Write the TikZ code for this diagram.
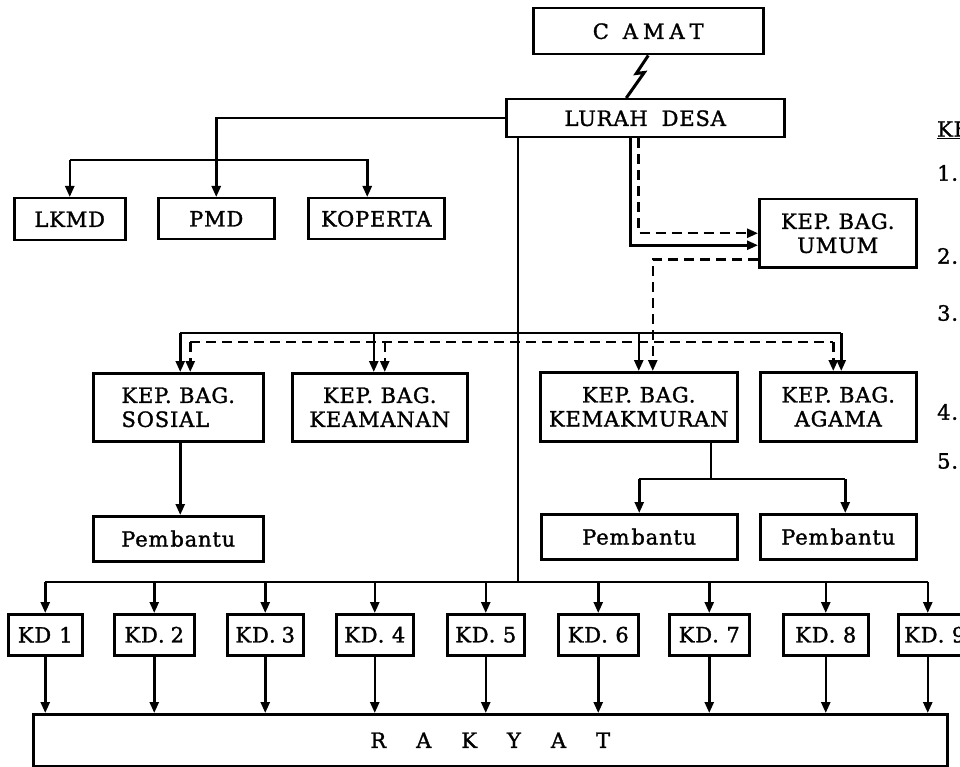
\documentclass[tikz,border=0pt]{standalone}
\usepackage{fontspec}
\setmainfont{DejaVu Serif}[FakeBold=1.4,LetterSpace=4]
\usetikzlibrary{arrows.meta,calc}
\begin{document}
\begin{tikzpicture}[x=1pt,y=-1pt,
  box/.style={draw,line width=2.5pt,inner sep=0pt,anchor=north west,align=center,font=\fontsize{21}{24}\selectfont},
  lbl/.style={inner sep=0pt,anchor=west,font=\fontsize{21}{24}\selectfont},
  ln/.style={line width=2.5pt},
  arr/.style={line width=2.5pt,-{Triangle[length=11pt,width=9pt]}},
  dsh/.style={line width=2.5pt,dash pattern=on 10pt off 6pt},
  darr/.style={dsh,-{Triangle[length=11pt,width=9pt]}}]
\useasboundingbox (0,0) rectangle (960,767);

% nodes
\node[box,minimum width=230pt,minimum height=46pt] (camat) at (532,7) {C\hspace{14pt}A\hspace{5pt}M\hspace{5pt}A\hspace{5pt}T};
\node[box,minimum width=278pt,minimum height=38pt] (lurah) at (505,98) {LURAH\hspace{14pt}DESA};
\node[box,minimum width=111pt,minimum height=42pt] (lkmd) at (13,197) {LKMD};
\node[box,minimum width=116pt,minimum height=41pt] (pmd) at (157,197) {PMD};
\node[box,minimum width=136pt,minimum height=41pt] (koperta) at (307,197) {KOPERTA};
\node[box,minimum width=157pt,minimum height=68pt] (umum) at (758,198) {KEP. BAG.\\UMUM};
\node[box,minimum width=170pt,minimum height=68pt,align=left] (sosial) at (92,372) {KEP. BAG.\\SOSIAL};
\node[box,minimum width=175pt,minimum height=68pt] (keamanan) at (291,372) {KEP. BAG.\\KEAMANAN};
\node[box,minimum width=197pt,minimum height=69pt] (kemak) at (539,371) {KEP. BAG.\\KEMAKMURAN};
\node[box,minimum width=156pt,minimum height=69pt] (agama) at (759,371) {KEP. BAG.\\AGAMA};
\node[box,minimum width=170pt,minimum height=45pt] (p1) at (92,515) {Pem\kern2pt bantu};
\node[box,minimum width=196pt,minimum height=45pt] (p2) at (540,513) {Pem\kern2pt bantu};
\node[box,minimum width=156pt,minimum height=45pt] (p3) at (759,513) {Pem\kern2pt bantu};
\node[box,minimum width=74pt,minimum height=41pt] (kd1) at (7,613) {KD\hspace{8pt}1};
\node[box,minimum width=80pt,minimum height=41pt] (kd2) at (113,613) {KD.\hspace{6pt}2};
\node[box,minimum width=76pt,minimum height=41pt] (kd3) at (226,613) {KD.\hspace{6pt}3};
\node[box,minimum width=77pt,minimum height=41pt] (kd4) at (335,613) {KD. 4};
\node[box,minimum width=77pt,minimum height=41pt] (kd5) at (446,613) {KD. 5};
\node[box,minimum width=80pt,minimum height=41pt] (kd6) at (557,613) {KD. 6};
\node[box,minimum width=80pt,minimum height=41pt] (kd7) at (668,613) {KD. 7};
\node[box,minimum width=85pt,minimum height=41pt] (kd8) at (782,613) {KD. 8};
\node[box,minimum width=65pt,minimum height=41pt] (kd9) at (897,613) {\makebox[59pt][l]{\hspace{3pt}KD. 9}};
\node[box,minimum width=914pt,minimum height=52pt] (rakyat) at (32,713) {R\hspace{30pt}A\hspace{30pt}K\hspace{30pt}Y\hspace{30pt}A\hspace{30pt}T};

% legend (cut at the page edge, as in the reference)
\node[lbl] (ket) at (937,130) {\underline{KE}};
\node[lbl] (l1) at (937,173) {1.};
\node[lbl] (l2) at (937,256) {2.};
\node[lbl] (l3) at (937,313) {3.};
\node[lbl] (l4) at (937,412) {4..};
\node[lbl] (l5) at (937,461) {5.};

% camat -- lurah (lightning)
\coordinate (zb) at ([xshift=-19pt]lurah.north);
\draw[line width=3pt,line join=miter] (camat.south) -- ++(-12,18) -- ++(8,-1) -- (zb);

% lurah -> lkmd, pmd, koperta
\draw[arr] (lurah.west) -| (pmd.north);
\coordinate (b1) at (0,160);
\coordinate (kopin) at ([xshift=-9pt]koperta.north);
\draw[arr] (lkmd.north |- b1) -| (kopin);
\draw[arr] (lkmd.north |- b1) -- (lkmd.north);

% lurah -> umum
\coordinate (s1) at ([xshift=-15pt]lurah.south);
\coordinate (s2) at ([xshift=-7pt]lurah.south);
\draw[arr] (s1) |- ([yshift=-12pt]umum.west);
\draw[darr] (s2) |- (umum.west);

% umum -> kemakmuran (dashed)
\coordinate (ukin) at ([xshift=14pt]kemak.north);
\draw[darr] ([yshift=-26pt]umum.west) -| (ukin);

% main vertical from lurah
\coordinate (v) at ([xshift=13pt]lurah.south west);
\coordinate (kb) at (0,582);
\draw[ln] (v) -- (v |- kb);

% solid bus to the four sections
\coordinate (sb) at (0,333);
\coordinate (sa) at ([xshift=2pt]sosial.north);
\coordinate (sk) at ([xshift=-6pt]keamanan.north);
\coordinate (sm) at (kemak.north);
\coordinate (sg) at ([xshift=3pt]agama.north);
\draw[ln] (sa |- sb) -- (sg |- sb);
\foreach \n in {sa,sk,sm,sg} \draw[arr] (\n |- sb) -- (\n);

% dashed bus to the four sections
\coordinate (db) at (0,342);
\coordinate (da) at ([xshift=12pt]sosial.north);
\coordinate (dk) at ([xshift=5pt]keamanan.north);
\coordinate (dg) at ([xshift=-5pt]agama.north);
\draw[dsh] (da |- db) -- (dg |- db);
\foreach \n in {da,dk,dg} \draw[darr] (\n |- db) -- (\n);

% sosial -> pembantu
\draw[arr] ([xshift=2pt]sosial.south) -- ([xshift=2pt]p1.north);

% kemakmuran -> two pembantu
\coordinate (kb2) at (0,479);
\coordinate (ks) at ([xshift=72pt]kemak.south);
\coordinate (p3in) at ([xshift=7pt]p3.north);
\draw[ln] (ks) -- (ks |- kb2);
\draw[ln] (p2.north |- kb2) -- (p3in |- kb2);
\draw[arr] (p2.north |- kb2) -- (p2.north);
\draw[arr] (p3in |- kb2) -- (p3in);

% KD bus
\coordinate (k9in) at ([xshift=-3pt]kd9.north);
\draw[ln] (kd1.north |- kb) -- (k9in |- kb);
\foreach \n in {kd1,kd2,kd3,kd4,kd5,kd6,kd7,kd8} {
  \draw[arr] (\n.north |- kb) -- (\n.north);
  \draw[arr] (\n.south) -- (\n.south |- rakyat.north);
}
\draw[arr] (k9in |- kb) -- (k9in);
\coordinate (k9out) at ([xshift=-3pt]kd9.south);
\draw[arr] (k9out) -- (k9out |- rakyat.north);
\end{tikzpicture}
\end{document}
